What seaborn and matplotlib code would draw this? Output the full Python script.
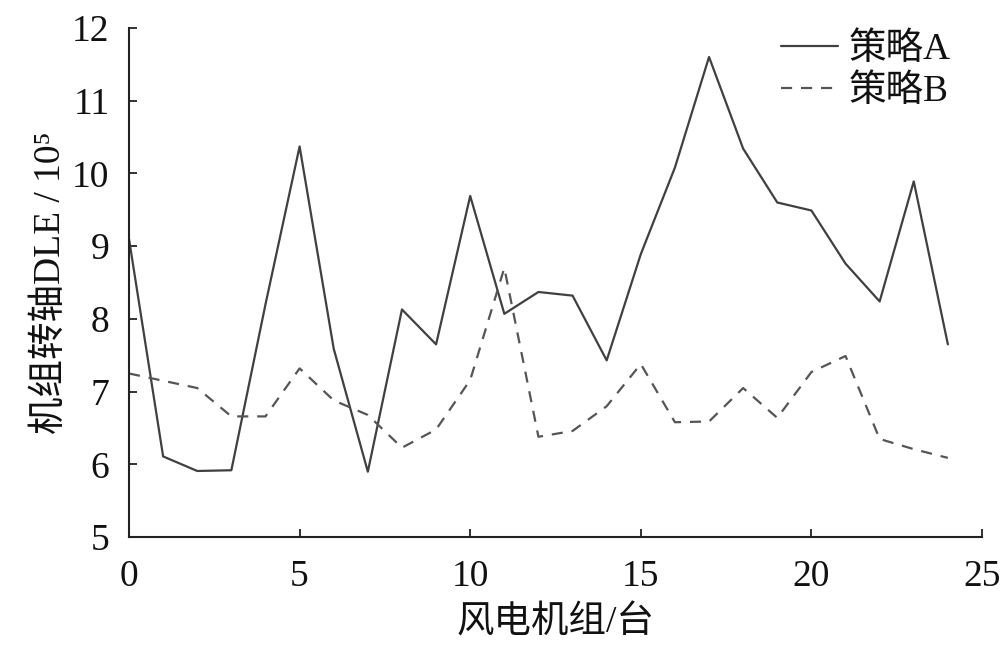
import numpy as np
import pandas as pd
import matplotlib
matplotlib.use("Agg")
import matplotlib.pyplot as plt
import seaborn as sns

# turbine index and DLE values (x 10^5) for the two strategies
turbines = list(range(25))
strategy_a = [9.10, 6.11, 5.91, 5.92, 8.20, 10.37, 7.59, 5.90, 8.13, 7.65,
              9.69, 8.07, 8.37, 8.32, 7.43, 8.89, 10.08, 11.60, 10.34, 9.60,
              9.49, 8.76, 8.24, 9.89, 7.65]
strategy_b = [7.25, 7.15, 7.05, 6.66, 6.66, 7.32, 6.88, 6.68, 6.23, 6.48,
              7.16, 8.70, 6.38, 6.46, 6.80, 7.38, 6.58, 6.59, 7.05, 6.64,
              7.27, 7.49, 6.35, 6.21, 6.09]
series_names = ["策略A", "策略B"]
x_ticks = [0, 5, 10, 15, 20, 25]
y_ticks = [5, 6, 7, 8, 9, 10, 11, 12]

df = pd.DataFrame({
    "turbine": turbines * 2,
    "dle": strategy_a + strategy_b,
    "strategy": [series_names[0]] * 25 + [series_names[1]] * 25,
})

sns.set_theme(style="ticks")
plt.rcParams["font.family"] = ["Liberation Serif", "Noto Sans CJK SC"]

fig = plt.figure(figsize=(10, 6.48), dpi=100)
ax = fig.add_axes([0.129, 0.171, 0.853, 0.786])

col = "#404040"
sns.lineplot(data=df, x="turbine", y="dle", hue="strategy", style="strategy",
             palette=[col, "#555555"], dashes=[(None, None), (5, 4)],
             linewidth=1.6, ax=ax)

ax.set_xlim(0, 25)
ax.set_ylim(5, 12)
ax.set_xticks(x_ticks)
ax.set_yticks(y_ticks)
ax.tick_params(direction="in", length=6, width=1.3, color="#222222",
               labelsize=27, labelcolor="#111111")
ax.tick_params(axis="x", pad=16)
ax.tick_params(axis="y", pad=14)
for s in ["left", "bottom"]:
    ax.spines[s].set_linewidth(1.5)
    ax.spines[s].set_color("#222222")
sns.despine(ax=ax)

ax.set_xlabel("风电机组/台", fontsize=27, color="#111111", labelpad=8)
ax.set_ylabel("机组转轴DLE / 10⁵", fontsize=27, color="#111111", labelpad=3)

leg = ax.legend(loc="upper right", bbox_to_anchor=(0.99, 1.035), frameon=False,
                fontsize=27, handlelength=1.5, handletextpad=0.3,
                labelspacing=0.2, borderaxespad=0.2)
for t in leg.get_texts():
    t.set_color("#111111")

fig.savefig("out.png", dpi=100)
